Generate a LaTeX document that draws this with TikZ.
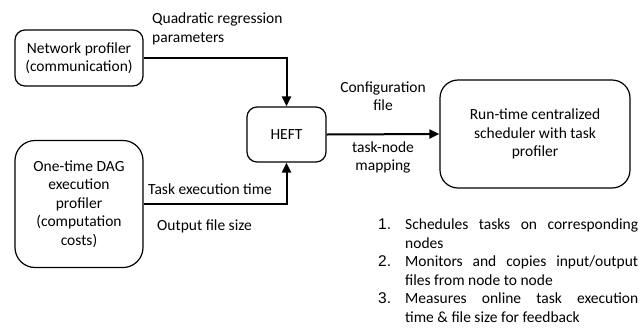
\documentclass[tikz,border=0pt]{standalone}
\usepackage{fontspec}
\setmainfont{Carlito}
\newfontfamily\numfont{Liberation Sans}
\usetikzlibrary{arrows.meta}
\tikzset{
  box/.style={draw, line width=1.2pt, rounded corners=10pt, align=center},
  link/.style={line width=2pt, -{Triangle[length=10pt,width=9pt]}},
  lbl/.style={inner sep=0pt, align=center},
}
\newcommand{\listitem}[2]{\hangindent=27pt\hangafter=1\noindent\makebox[27pt][l]{\numfont #1}#2\par}
\begin{document}
\begin{tikzpicture}[x=1pt, y=-1pt, font=\fontsize{15.5}{18.5}\selectfont]
  \useasboundingbox (0,0) rectangle (644,327);
  % boxes
  \node[box, minimum width=128pt, minimum height=56pt] (net) at (79,58) {Network profiler\\(communication)};
  \node[box, rounded corners=20pt, minimum width=128pt, minimum height=127pt] (dag) at (79,204) {One-time DAG\\execution\\profiler\\(computation\\costs)};
  \node[box, minimum width=79pt, minimum height=55pt] (heft) at (286.5,134.5) {HEFT};
  \node[box, rounded corners=18pt, minimum width=190pt, minimum height=108pt] (rt) at (535,134) {Run-time centralized\\scheduler with task\\profiler};
  % connectors
  \draw[link] (net.east) -| (heft.north);
  \draw[link] (dag.east) -| (heft.south);
  \draw[link] (heft.east) -- (rt.west);
  % labels
  \node[lbl, anchor=west, align=left] (qrp) at (152,29) {Quadratic regression\\parameters};
  \node[lbl, anchor=west] (tet) at (148,189) {Task execution time};
  \node[lbl, anchor=west] (ofs) at (157,226) {Output file size};
  \node[lbl] (cfg) at (383,96) {Configuration\\file};
  \node[lbl] (tnm) at (383,157.5) {task-node\\mapping};
  \node[inner sep=0pt, anchor=north west, text width=260pt, align=justify] (steps) at (378,219) {%
    \listitem{1.}{Schedules tasks on corresponding nodes}
    \listitem{2.}{Monitors and copies input/output files from node to node}
    \listitem{3.}{Measures online task execution\linebreak time \& file size for feedback}};
\end{tikzpicture}
\end{document}
